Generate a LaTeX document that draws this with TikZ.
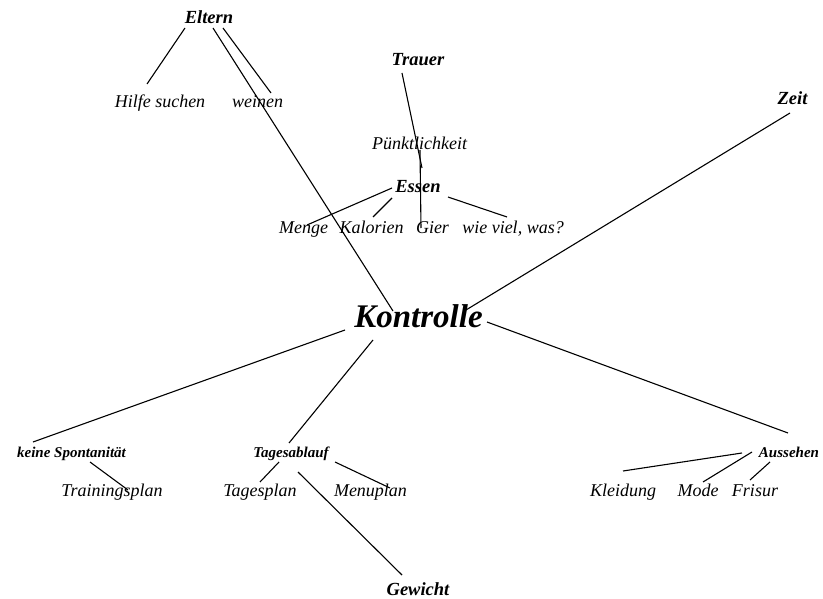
\documentclass[tikz,border=0pt]{standalone}
\usepackage{fontspec}
\setmainfont{Liberation Serif}
\begin{document}
\begin{tikzpicture}[x=1pt,y=-1pt,
  lbl/.style={inner sep=0pt,anchor=base,font=\fontsize{18}{20}\selectfont\itshape},
  key/.style={inner sep=0pt,anchor=base,font=\fontsize{18.5}{20}\selectfont\bfseries\itshape},
  subkey/.style={inner sep=0pt,anchor=base,font=\fontsize{15}{17}\selectfont\bfseries\itshape},
  hub/.style={inner sep=0pt,anchor=base,font=\fontsize{33}{36}\selectfont\bfseries\itshape},
  link/.style={line width=1.1pt,black}]
\useasboundingbox (0,0) rectangle (823,599);
% text nodes
\node[key] (eltern) at (209,24) {Eltern};
\node[lbl] (hilfe) at (160,108) {Hilfe suchen};
\node[lbl] (weinen) at (257.5,108) {weinen};
\node[key] (trauer) at (418,66) {Trauer};
\node[lbl] (puenkt) at (419.5,150) {Pünktlichkeit};
\node[key] (essen) at (418,193) {Essen};
\node[lbl] (menge) at (303.5,234) {Menge};
\node[lbl] (kalorien) at (371.5,234) {Kalorien};
\node[lbl] (gier) at (432.5,234) {Gier};
\node[lbl] (wieviel) at (513,234) {wie viel, was?};
\node[key] (zeit) at (792.5,105) {Zeit};
\node[hub] (kontrolle) at (418.5,327) {Kontrolle};
\node[subkey] (spont) at (71.5,457) {keine Spontanität};
\node[subkey] (tagesablauf) at (291,457) {Tagesablauf};
\node[subkey] (aussehen) at (789,457) {Aussehen};
\node[lbl] (training) at (112,496) {Trainingsplan};
\node[lbl] (tagesplan) at (260,496) {Tagesplan};
\node[lbl] (menuplan) at (370.5,496) {Menuplan};
\node[lbl] (kleidung) at (623,496) {Kleidung};
\node[lbl] (mode) at (698,496) {Mode};
\node[lbl] (frisur) at (755,496) {Frisur};
\node[key] (gewicht) at (418,595) {Gewicht};
% connector end points
\coordinate (elA) at (185,28);  \coordinate (hiA) at (147,84);
\coordinate (elB) at (213,28);  \coordinate (koA) at (393,311);
\coordinate (elC) at (223,28);  \coordinate (weA) at (271,93);
\coordinate (trA) at (402,73);  \coordinate (esA) at (422,168);
\coordinate (puA) at (420,150); \coordinate (giA) at (421,228);
\coordinate (esB) at (392,188); \coordinate (meA) at (307,225);
\coordinate (esC) at (392,198); \coordinate (kaA) at (373,217);
\coordinate (esD) at (448,197); \coordinate (wiA) at (507,217);
\coordinate (zeA) at (790,113); \coordinate (koB) at (466,310);
\coordinate (koC) at (345,330); \coordinate (spA) at (33,442);
\coordinate (koD) at (373,340); \coordinate (taA) at (289,443);
\coordinate (koE) at (487,322); \coordinate (auA) at (788,433);
\coordinate (spB) at (90,462);  \coordinate (trnA) at (128,490);
\coordinate (taB) at (279,462); \coordinate (tpA) at (260,482);
\coordinate (taC) at (335,462); \coordinate (mpA) at (390,488);
\coordinate (taD) at (298,472); \coordinate (geA) at (402,575);
\coordinate (auB) at (742,453); \coordinate (klA) at (623,471);
\coordinate (auC) at (752,452); \coordinate (moA) at (703,482);
\coordinate (auD) at (770,462); \coordinate (frA) at (750,480);
% connectors
\draw[link] (elA) -- (hiA);
\draw[link] (elB) -- (koA);
\draw[link] (elC) -- (weA);
\draw[link] (trA) -- (esA);
\draw[link] (puA) -- (giA);
\draw[link] (esB) -- (meA);
\draw[link] (esC) -- (kaA);
\draw[link] (esD) -- (wiA);
\draw[link] (zeA) -- (koB);
\draw[link] (koC) -- (spA);
\draw[link] (koD) -- (taA);
\draw[link] (koE) -- (auA);
\draw[link] (spB) -- (trnA);
\draw[link] (taB) -- (tpA);
\draw[link] (taC) -- (mpA);
\draw[link] (taD) -- (geA);
\draw[link] (auB) -- (klA);
\draw[link] (auC) -- (moA);
\draw[link] (auD) -- (frA);
\end{tikzpicture}
\end{document}
